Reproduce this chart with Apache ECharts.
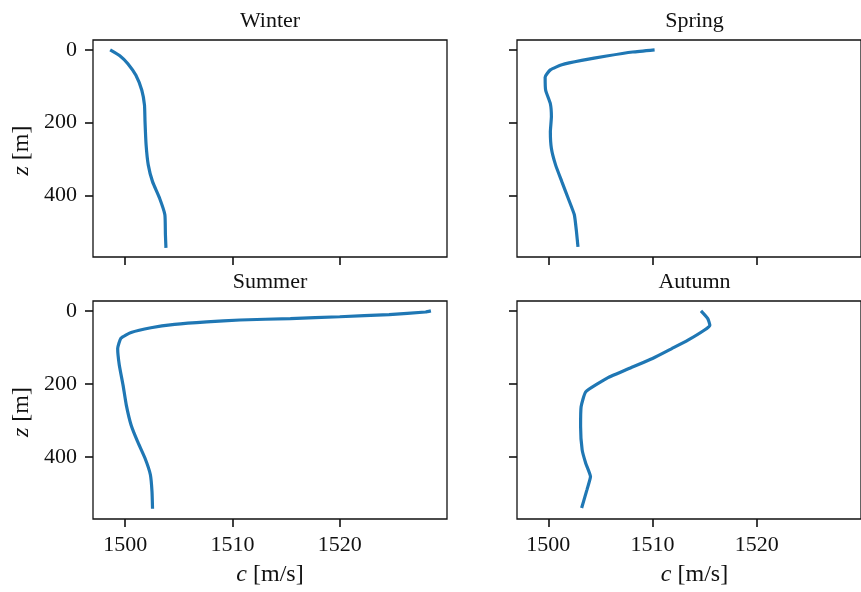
<!DOCTYPE html>
<html>
<head>
<meta charset="utf-8">
<script src="https://cdn.jsdelivr.net/npm/echarts@6/dist/echarts.min.js"></script>
<style>
html,body{margin:0;padding:0;background:#fff;}
#chart{width:861px;height:592px;}
</style>
</head>
<body>
<div id="chart"></div>
<script>
// ---- data (sound speed c [m/s] vs depth z [m]) ----
const seasons = ['Winter', 'Spring', 'Summer', 'Autumn'];
const xTicks = [1500, 1510, 1520];
const yTicks = [0, 200, 400];

const winterC = [1498.6, 1499.5, 1500.25, 1501.0, 1501.55, 1501.8, 1501.85, 1501.95, 1502.15, 1502.55, 1503.2, 1503.7, 1503.75, 1503.8];
const winterZ = [0, 16, 38, 70, 111, 152, 198, 261, 316, 362, 407, 453, 507, 544];

const springC = [1510.2, 1508.1, 1505.6, 1503.2, 1501.3, 1500.2, 1499.7, 1499.75, 1500.2, 1500.3, 1500.2, 1500.3, 1500.7, 1501.3, 1501.9, 1502.5, 1502.7, 1502.85];
const springZ = [0, 6, 17, 29, 41, 55, 75, 111, 148, 184, 225, 271, 316, 362, 407, 453, 498, 541];

const summerC = [1528.5, 1528.0, 1524.6, 1520.0, 1515.4, 1510.7, 1507.6, 1504.6, 1502.4, 1500.55, 1499.6, 1499.3, 1499.45, 1499.8, 1500.1, 1500.55, 1501.15, 1501.85, 1502.35, 1502.5, 1502.55];
const summerZ = [0, 3, 10, 16, 21, 25, 30, 37, 46, 59, 75, 103, 148, 203, 257, 312, 357, 403, 448, 494, 541];

const autumnC = [1514.65, 1515.3, 1515.5, 1514.95, 1513.4, 1511.85, 1510.0, 1507.8, 1505.65, 1503.6, 1503.15, 1503.1, 1503.25, 1503.6, 1504.05, 1503.7, 1503.2];
const autumnZ = [0, 21, 39, 53, 80, 103, 130, 157, 184, 221, 262, 316, 380, 417, 453, 490, 539];

const seriesC = [winterC, springC, summerC, autumnC];
const seriesZ = [winterZ, springZ, summerZ, autumnZ];

// ---- layout ----
const serif = 'Liberation Serif';
const grids = [
  {left: 93, top: 40, width: 354, height: 217},
  {left: 517, top: 40, width: 355, height: 217},
  {left: 93, top: 301, width: 354, height: 218},
  {left: 517, top: 301, width: 355, height: 218}
];

const option = {
  animation: false,
  backgroundColor: '#fff',
  grid: grids.map(g => Object.assign({show: true, borderColor: '#111', borderWidth: 1.3, backgroundColor: 'transparent'}, g)),
  xAxis: grids.map((g, i) => ({
    type: 'value', gridIndex: i, min: 1497, max: 1530, position: 'bottom',
    axisLine: {show: false, onZero: false},
    splitLine: {show: false},
    axisTick: {show: true, inside: false, length: 8, lineStyle: {color: '#111', width: 1.6}, customValues: xTicks},
    axisLabel: {show: i >= 2, margin: 15, fontFamily: serif, fontSize: 22, color: '#111', customValues: xTicks,
      formatter: v => String(v)}
  })),
  yAxis: grids.map((g, i) => ({
    type: 'value', gridIndex: i, min: -27, max: 569, inverse: true, position: 'left',
    axisLine: {show: false, onZero: false},
    splitLine: {show: false},
    axisTick: {show: true, inside: false, length: 8, lineStyle: {color: '#111', width: 1.6}, customValues: yTicks},
    axisLabel: {show: i % 2 === 0, margin: 16, fontFamily: serif, fontSize: 22, color: '#111', customValues: yTicks,
      formatter: v => String(v)}
  })),
  series: seasons.map((s, i) => ({
    name: s, type: 'line', xAxisIndex: i, yAxisIndex: i,
    data: seriesC[i].map((c, k) => [c, seriesZ[i][k]]),
    showSymbol: false, smooth: 0.15,
    lineStyle: {color: '#1f77b4', width: 3.2},
    z: 3
  })),
  graphic: []
};

const g = option.graphic;
seasons.forEach((s, i) => {
  const gr = grids[i];
  g.push({type: 'text', x: gr.left + gr.width / 2, y: gr.top - 19,
    style: {text: s, font: '22px "' + serif + '"', fill: '#111', textAlign: 'center', textVerticalAlign: 'middle'}});
});
[0, 1].forEach(col => {
  const gr = grids[2 + col];
  g.push({type: 'text', x: gr.left + gr.width / 2, y: 575,
    style: {text: '{i|c} [m/s]', font: '24px "' + serif + '"', fill: '#111', textAlign: 'center', textVerticalAlign: 'middle',
      rich: {i: {fontStyle: 'italic', fontFamily: serif, fontSize: 24, fill: '#111'}}}});
});
[0, 2].forEach(idx => {
  const gr = grids[idx];
  g.push({type: 'text', x: 22, y: gr.top + gr.height / 2 + 2, rotation: Math.PI / 2,
    style: {text: '{i|z} [m]', font: '24px "' + serif + '"', fill: '#111', textAlign: 'center', textVerticalAlign: 'middle',
      rich: {i: {fontStyle: 'italic', fontFamily: serif, fontSize: 24, fill: '#111'}}}});
});

const chart = echarts.init(document.getElementById('chart'), null, {renderer: 'canvas'});
chart.setOption(option);
</script>
</body>
</html>
